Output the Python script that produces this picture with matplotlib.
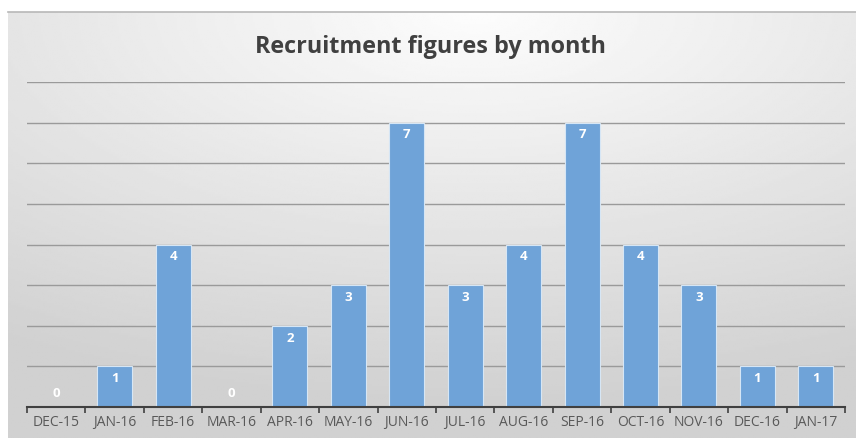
import numpy as np
import matplotlib.pyplot as plt

months = ["DEC-15", "JAN-16", "FEB-16", "MAR-16", "APR-16", "MAY-16", "JUN-16",
          "JUL-16", "AUG-16", "SEP-16", "OCT-16", "NOV-16", "DEC-16", "JAN-17"]
recruits = [0, 1, 4, 0, 2, 3, 7, 3, 4, 7, 4, 3, 1, 1]

plt.rcParams['font.family'] = ['Open Sans', 'DejaVu Sans']

W, H = 856, 439
fig = plt.figure(figsize=(W / 100, H / 100), dpi=100)
fig.patch.set_facecolor('white')

# gradient panel behind the chart (light at top centre, grey towards the bottom left)
bg = fig.add_axes([8 / W, 0, 1 - 8 / W, (H - 13) / H])
yy, xx = np.mgrid[0:1:200j, 0:1:400j]
dist = np.sqrt(((xx - 0.55) * 1.0) ** 2 + ((yy - 0.0) * 1.1) ** 2)
shade = np.clip(0.99 - 0.17 * dist, 0.82, 0.99)
bg.imshow(shade, cmap='gray', vmin=0, vmax=1, aspect='auto', extent=[0, 1, 1, 0])
bg.set_xticks([])
bg.set_yticks([])
for side in ['left', 'right', 'bottom']:
    bg.spines[side].set_visible(False)
bg.spines['top'].set_color('#b8b8b8')
bg.spines['top'].set_linewidth(1.2)

ax = fig.add_axes([27 / W, 31 / H, (845 - 27) / W, (408 - 83) / H])
ax.set_facecolor('none')

x = np.arange(len(months))
bars = ax.bar(x, recruits, width=0.6, color='#6fa3d8', edgecolor='#d6e6f5',
              linewidth=0.8, zorder=3)

for xi, v in zip(x, recruits):
    ax.text(xi, v - 0.28 if v > 0 else 0.35, str(v), ha='center', va='center',
            color='white', fontsize=9.5, fontweight='bold', zorder=4)

ax.set_xlim(-0.5, len(months) - 0.5)
ax.set_ylim(0, 8)
ax.set_yticks(range(0, 9))
ax.yaxis.grid(True, color='#9a9a9a', linewidth=1.0, zorder=0)
ax.tick_params(axis='y', length=0, labelleft=False)

ax.set_xticks(x)
ax.set_xticklabels(months, color='#595959', fontsize=10)
ax.set_xticks(np.arange(-0.5, len(months)), minor=True)
ax.tick_params(axis='x', which='major', length=0, pad=5)
ax.tick_params(axis='x', which='minor', length=4, width=1.2, color='#404040', direction='out')

for side in ['left', 'right', 'top']:
    ax.spines[side].set_visible(False)
ax.spines['bottom'].set_color('#404040')
ax.spines['bottom'].set_linewidth(1.5)
ax.spines['bottom'].set_zorder(5)

fig.text(430 / W, 1 - 47 / H, "Recruitment figures by month", ha='center', va='center',
         fontsize=16.8, fontweight='bold', color='#404040')

fig.savefig('out.png', dpi=100)
